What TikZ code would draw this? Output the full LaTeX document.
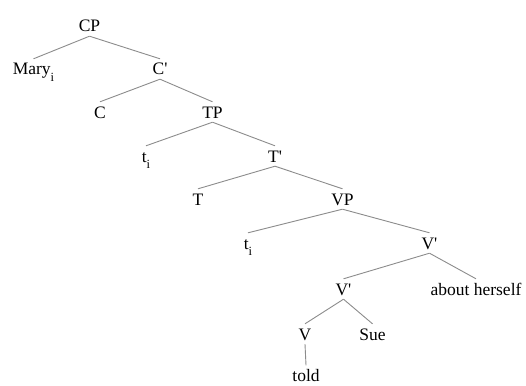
\documentclass[tikz,border=0pt]{standalone}
\usepackage{fontspec}
\setmainfont{Liberation Serif}[Ligatures=TeXOff]
\newcommand{\sbi}{\raisebox{-6pt}{\fontsize{12.5}{12.5}\selectfont i}}
\begin{document}
\begin{tikzpicture}[x=1pt,y=-1pt,
  lab/.style={inner xsep=0pt, inner ysep=4pt, text height=12pt, text depth=0pt, anchor=base,
    font=\fontsize{17.5}{20}\selectfont},
  edge/.style={draw=black!45, line width=0.9pt}]
\fill[white] (0,0) rectangle (526,385);
\useasboundingbox (0,0) rectangle (526,385);
\node[lab] (CP)   at (89.5,32) {CP};
\node[lab] (Mary) at (33.5,75) {Mary\sbi};
\node[lab] (Cb)   at (160,75) {C'};
\node[lab] (C)    at (100,118) {C};
\node[lab] (TP)   at (212.5,118) {TP};
\node[lab] (t1)   at (146,162) {t\sbi};
\node[lab] (Tb)   at (275,162) {T'};
\node[lab] (T)    at (198,205) {T};
\node[lab] (VP)   at (342.5,205) {VP};
\node[lab] (t2)   at (248,249) {t\sbi};
\node[lab] (Vb1)  at (429.5,249) {V'};
\node[lab] (Vb2)  at (343.5,295) {V'};
\node[lab] (ah)   at (476,295) {about herself};
\node[lab] (V)    at (305,340) {V};
\node[lab] (Sue)  at (372.5,340) {Sue};
\node[lab] (told) at (306,381.5) {told};
\draw[edge] (CP.south) -- (Mary.north);
\draw[edge] (CP.south) -- (Cb.north);
\draw[edge] (Cb.south) -- (C.north);
\draw[edge] (Cb.south) -- (TP.north);
\draw[edge] (TP.south) -- (t1.north);
\draw[edge] (TP.south) -- (Tb.north);
\draw[edge] (Tb.south) -- (T.north);
\draw[edge] (Tb.south) -- (VP.north);
\draw[edge] (VP.south) -- (t2.north);
\draw[edge] (VP.south) -- (Vb1.north);
\draw[edge] (Vb1.south) -- (Vb2.north);
\draw[edge] (Vb1.south) -- (ah.north);
\draw[edge] (Vb2.south) -- (V.north);
\draw[edge] (Vb2.south) -- (Sue.north);
\draw[edge] (V.south) -- (told.north);
\end{tikzpicture}
\end{document}
